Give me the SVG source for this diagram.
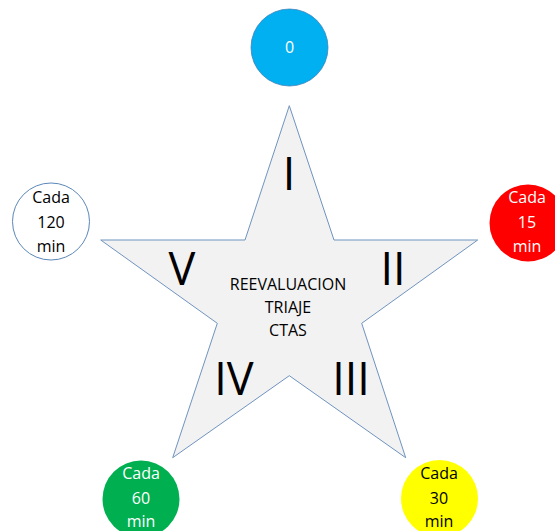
<svg xmlns="http://www.w3.org/2000/svg" width="555" height="531" viewBox="0 0 555 531">
  <style>
    text { font-family: "Open Sans", "Liberation Sans", sans-serif; text-anchor: middle; }
    .num { font-size: 45px; fill: #000; }
    .center { font-size: 16px; fill: #000; }
    .lbl { font-size: 16px; }
    .dark { fill: #000; }
    .light { fill: #fff; }
  </style>
  <rect width="555" height="531" fill="#fff"/>

  <!-- star shape with level labels -->
  <g id="star">
    <polygon points="289.3,105.7 334,240 477.7,240 361.7,323.3 405.7,457.7 289.3,375.7 172.7,457.7 217.3,323.3 100.7,240 245,240" fill="#F2F2F2" stroke="#6F93BF" stroke-width="1"/>
    <text class="num" x="289" y="190">I</text>
    <text class="num" x="393" y="285">II</text>
    <text class="num" x="351" y="395">III</text>
    <text class="num" x="234" y="395">IV</text>
    <text class="num" x="182" y="285">V</text>
    <text class="center" x="288" y="290">REEVALUACION</text>
    <text class="center" x="288" y="313">TRIAJE</text>
    <text class="center" x="288" y="336">CTAS</text>
  </g>

  <g id="level-i">
    <circle cx="289.5" cy="47.5" r="38.5" fill="#00B0F0" stroke="#3A7DB8" stroke-width="0.75"/>
    <text class="lbl light" x="289.5" y="53">0</text>
  </g>

  <g id="level-ii">
    <circle cx="528" cy="223" r="38.5" fill="#FF0000"/>
    <text class="lbl light" x="527" y="203">Cada</text>
    <text class="lbl light" x="527" y="228">15</text>
    <text class="lbl light" x="527" y="252">min</text>
  </g>

  <g id="level-iii">
    <circle cx="439.5" cy="498.5" r="38.5" fill="#FFFF00"/>
    <text class="lbl dark" x="439" y="479">Cada</text>
    <text class="lbl dark" x="439" y="504">30</text>
    <text class="lbl dark" x="439" y="527">min</text>
  </g>

  <g id="level-iv">
    <circle cx="141" cy="499" r="38.5" fill="#00B050"/>
    <text class="lbl light" x="141" y="479">Cada</text>
    <text class="lbl light" x="141" y="504">60</text>
    <text class="lbl light" x="141" y="527">min</text>
  </g>

  <g id="level-v">
    <circle cx="51" cy="221.5" r="38.5" fill="#fff" stroke="#5B87B8" stroke-width="1"/>
    <text class="lbl dark" x="51" y="203">Cada</text>
    <text class="lbl dark" x="51" y="228">120</text>
    <text class="lbl dark" x="51" y="252">min</text>
  </g>

  <g id="connectors"></g>
</svg>
